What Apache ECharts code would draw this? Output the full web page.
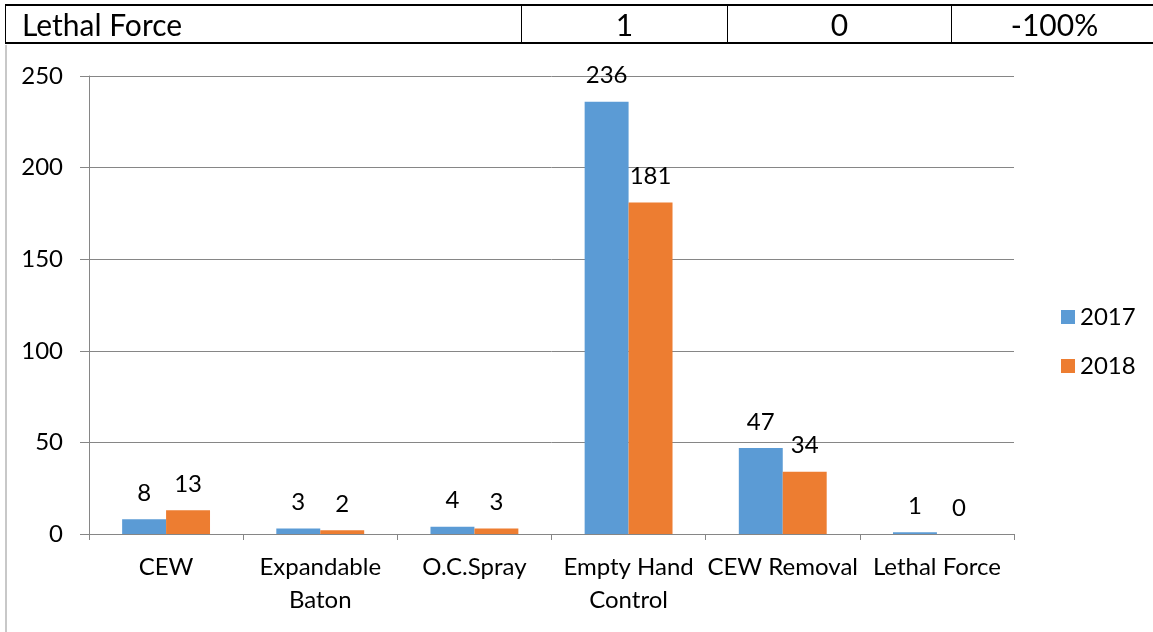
<!DOCTYPE html>
<html>
<head>
<meta charset="utf-8">
<script src="https://cdn.jsdelivr.net/npm/echarts@6/dist/echarts.min.js"></script>
<style>
  html, body { margin: 0; padding: 0; background: #fff; }
  body { width: 1153px; height: 632px; position: relative; overflow: hidden; font-family: Lato, "Open Sans", sans-serif; }
  #row { position: absolute; left: 5px; top: 4px; width: 1152px; border-collapse: collapse; table-layout: fixed; font-size: 30px; }
  #row td { border-top: 2px solid #000; border-bottom: 2px solid #000; border-left: 1px solid #000; border-right: 1px solid #000; height: 36px; padding: 0; line-height: 36px; overflow: hidden; white-space: nowrap; }
  #row td.name { padding-left: 16px; }
  #row td.num { text-align: center; }
  #frame { position: absolute; left: 5px; top: 45px; width: 1160px; height: 600px; border-left: 2px solid #c8c8c8; }
  #chart { position: absolute; left: 0; top: 0; width: 1153px; height: 632px; }
</style>
</head>
<body>
<div id="frame"></div>
<div id="chart"></div>
<table id="row"><colgroup><col style="width:516px"><col style="width:206px"><col style="width:224px"><col style="width:206px"></colgroup><tr id="rowcells"></tr></table>
<script>
// Summary row shown above the chart
const rowLabel = 'Lethal Force';
const rowValues = ['1', '0', '-100%'];

// Use-of-force categories and yearly counts
const categories = ['CEW', 'Expandable\nBaton', 'O.C.Spray', 'Empty Hand\nControl', 'CEW Removal', 'Lethal Force'];
const seriesNames = ['2017', '2018'];
const values2017 = [8, 3, 4, 236, 47, 1];
const values2018 = [13, 2, 3, 181, 34, 0];
const yTicks = [0, 50, 100, 150, 200, 250];

const tr = document.getElementById('rowcells');
const nameCell = document.createElement('td');
nameCell.className = 'name';
nameCell.textContent = rowLabel;
tr.appendChild(nameCell);
rowValues.forEach(v => {
  const td = document.createElement('td');
  td.className = 'num';
  td.textContent = v;
  tr.appendChild(td);
});

const chart = echarts.init(document.getElementById('chart'), null, { renderer: 'canvas' });
const font = 'Lato, "Open Sans", sans-serif';
const labelStyle = { show: true, position: 'top', distance: 14, color: '#000', fontSize: 24, fontFamily: font };

chart.setOption({
  animation: false,
  textStyle: { fontFamily: font },
  grid: { left: 89, right: 139, top: 76, bottom: 98, containLabel: false },
  legend: {
    orient: 'vertical', left: 1056, top: 300, itemWidth: 14, itemHeight: 14, itemGap: 25, itemTextGap: 8,
    icon: 'rect', textStyle: { fontSize: 24, color: '#000', fontFamily: font },
    data: seriesNames
  },
  xAxis: {
    type: 'category', data: categories,
    axisLine: { lineStyle: { color: '#868686', width: 1 } },
    axisTick: { show: true, length: 6, alignWithLabel: false, lineStyle: { color: '#868686' } },
    axisLabel: { fontSize: 24, color: '#000', margin: 17, lineHeight: 33, fontFamily: font, interval: 0 }
  },
  yAxis: {
    type: 'value', min: 0, max: 250, interval: 50,
    axisLine: { show: true, lineStyle: { color: '#868686', width: 1 } },
    axisTick: { show: true, length: 9, lineStyle: { color: '#868686' } },
    splitLine: { lineStyle: { color: '#868686', width: 1 } },
    axisLabel: { fontSize: 24, color: '#000', margin: 26, fontFamily: font,
      formatter: v => yTicks.includes(v) ? String(v) : '' }
  },
  series: [
    { name: seriesNames[0], type: 'bar', data: values2017, barGap: '0%', barCategoryGap: '43%',
      itemStyle: { color: '#5B9BD5' }, label: labelStyle },
    { name: seriesNames[1], type: 'bar', data: values2018, barGap: '0%', barCategoryGap: '43%',
      itemStyle: { color: '#ED7D31' }, label: labelStyle }
  ]
});
</script>
</body>
</html>
